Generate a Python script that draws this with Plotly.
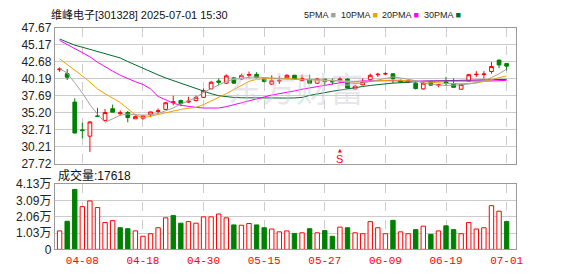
import plotly.graph_objects as go

W, H = 578, 276

# ---------------- data ----------------
dates = ["04-02","04-03","04-07","04-08","04-09","04-10","04-11","04-14","04-15","04-16",
         "04-17","04-18","04-21","04-22","04-23","04-24","04-25","04-28","04-29","04-30",
         "05-06","05-07","05-08","05-09","05-12","05-13","05-14","05-15","05-16","05-19",
         "05-20","05-21","05-22","05-23","05-26","05-27","05-28","05-29","05-30","06-03",
         "06-04","06-05","06-06","06-09","06-10","06-11","06-12","06-13","06-16","06-17",
         "06-18","06-19","06-20","06-23","06-24","06-25","06-26","06-27","06-30","07-01"]

opens = [41.5, 40.92, 36.77, 32.7, 31.78, 34.74, 34.09, 35.8, 35.06, 35.24,
         34.32, 34.41, 34.92, 35.4, 35.7, 36.7, 36.99, 36.77, 36.99, 37.46,
         38.71, 39.86, 39.54, 40.32, 40.14, 40.7, 40.83, 40.14, 39.4, 39.85,
         40.32, 40.69, 39.9, 40.05, 39.54, 40.14, 39.8, 39.9, 40.14, 38.7,
         39.3, 40.05, 40.78, 40.9, 40.92, 39.95, 39.67, 39.54, 38.7, 39.72,
         39.28, 39.72, 39.45, 38.65, 39.86, 40.78, 40.8, 41.24, 42.91, 42.4]
highs = [41.85, 41.61, 37.32, 33.76, 34.0, 35.93, 35.75, 36.4, 35.56, 35.47,
         34.83, 34.92, 35.33, 35.84, 36.8, 37.69, 37.13, 37.55, 37.73, 38.75,
         39.86, 40.23, 40.83, 40.46, 40.92, 41.24, 41.15, 40.23, 40.69, 40.6,
         40.83, 40.78, 40.78, 40.78, 40.32, 40.14, 40.23, 40.46, 40.23, 39.3,
         40.23, 40.92, 41.06, 41.15, 40.92, 40.05, 40.05, 39.77, 39.77, 39.86,
         39.44, 40.46, 40.23, 39.44, 40.92, 41.29, 41.29, 42.63, 43.0, 42.4]
lows = [41.2, 40.0, 32.2, 31.45, 29.47, 34.6, 33.99, 35.29, 34.83, 33.81,
        34.32, 34.18, 34.55, 35.15, 35.6, 36.3, 36.17, 36.63, 36.9, 37.37,
        38.66, 39.21, 39.4, 39.44, 40.0, 40.23, 40.23, 39.67, 39.3, 39.44,
        40.14, 40.0, 39.86, 39.49, 39.4, 39.3, 39.3, 39.54, 38.75, 38.61,
        39.21, 39.86, 40.46, 40.69, 39.54, 39.6, 39.54, 38.61, 38.61, 39.15,
        38.93, 39.16, 38.93, 38.61, 39.77, 40.46, 40.23, 40.92, 41.75, 41.38]
closes = [41.6, 40.41, 32.24, 32.6, 33.86, 34.68, 35.24, 35.29, 35.2, 34.5,
          34.64, 34.73, 35.33, 35.5, 36.67, 36.8, 36.53, 36.9, 37.46, 38.43,
          39.67, 39.67, 40.6, 39.54, 40.64, 40.8, 40.37, 39.77, 39.9, 39.95,
          40.69, 40.09, 40.23, 39.54, 40.14, 39.77, 39.75, 40.14, 38.84, 39.07,
          39.77, 40.69, 40.83, 40.92, 40.2, 39.7, 39.86, 38.75, 39.54, 39.25,
          39.32, 39.5, 38.93, 39.35, 40.78, 40.83, 40.87, 41.98, 42.21, 42.03]

ma5 = [41.7, 41.0, 39.6, 38.1, 36.4, 35.0, 33.8, 34.3, 34.85, 35.0,
       34.9, 34.85, 34.9, 35.1, 35.5, 35.9, 36.5, 37.0, 37.4, 38.2,
       38.7, 39.3, 39.8, 40.1, 40.3, 40.4, 40.45, 40.4, 40.3, 40.2,
       40.1, 40.1, 40.1, 40.05, 40.0, 40.0, 39.95, 39.9, 39.6, 39.5,
       39.55, 39.8, 40.0, 40.3, 40.45, 40.3, 40.1, 39.9, 39.55, 39.35,
       39.25, 39.2, 39.2, 39.3, 39.4, 39.6, 39.9, 40.35, 40.9, 41.6]
ma10 = [43.1, 42.3, 41.5, 40.6, 39.7, 38.7, 38.0, 37.3, 36.7, 35.8,
        34.9, 34.45, 34.7, 35.05, 35.3, 35.5, 35.7, 35.85, 36.0, 36.4,
        36.9, 37.5, 38.0, 38.6, 39.2, 39.8, 40.1, 40.2, 40.25, 40.25,
        40.2, 40.15, 40.1, 40.05, 40.0, 40.0, 40.0, 39.95, 39.8, 39.7,
        39.75, 39.85, 39.95, 40.0, 40.0, 39.95, 39.9, 39.85, 39.8, 39.7,
        39.6, 39.5, 39.45, 39.45, 39.5, 39.55, 39.8, 40.05, 40.35, 40.6]
ma20 = [45.8, 45.2, 44.6, 44.0, 43.4, 42.6, 41.9, 41.3, 40.7, 40.2,
        39.75, 39.35, 38.7, 37.6, 37.1, 36.6, 36.3, 36.1, 36.0, 35.9,
        35.85, 35.9, 36.1, 36.4, 36.7, 36.95, 37.3, 37.55, 37.8, 38.0,
        38.15, 38.4, 38.65, 38.85, 39.05, 39.25, 39.45, 39.6, 39.7, 39.8,
        39.86, 39.88, 39.9, 39.92, 39.9, 39.85, 39.85, 39.8, 39.8, 39.8,
        39.78, 39.78, 39.77, 39.77, 39.77, 39.78, 39.8, 39.85, 39.9, 39.95]
ma30 = [46.0, 45.55, 45.1, 44.8, 44.5, 44.15, 43.85, 43.55, 43.23, 42.7,
        42.2, 41.65, 41.2, 40.75, 40.3, 39.9, 39.5, 39.15, 38.8, 38.4,
        38.0, 37.7, 37.55, 37.45, 37.4, 37.38, 37.36, 37.35, 37.35, 37.35,
        37.36, 37.38, 37.45, 37.75, 38.0, 38.15, 38.35, 38.55, 38.75, 38.9,
        39.05, 39.2, 39.35, 39.45, 39.55, 39.6, 39.7, 39.77, 39.82, 39.86,
        39.88, 39.9, 39.9, 39.9, 39.92, 39.95, 39.98, 40.02, 40.06, 40.09]

# volume in 万 (10k shares); "up" flag per bar (red hollow) vs down (green filled)
volumes_wan = [1.17, 1.78, 3.80, 2.71, 3.07, 2.65, 1.70, 1.82, 1.37, 1.31,
               1.17, 0.83, 0.99, 1.37, 2.00, 2.14, 1.66, 1.76, 1.66, 2.06,
               2.06, 2.24, 2.00, 1.55, 1.53, 1.64, 1.55, 1.37, 1.29, 1.11,
               1.17, 1.01, 1.05, 1.31, 1.05, 1.19, 0.83, 1.41, 1.37, 1.05,
               0.99, 1.76, 1.37, 0.99, 1.84, 1.11, 0.99, 1.25, 1.47, 0.95,
               1.17, 1.49, 1.25, 0.99, 1.70, 1.29, 1.37, 2.77, 2.42, 1.76]
vol_up = [1, 0, 0, 1, 1, 1, 1, 1, 0, 0,
          1, 1, 1, 1, 1, 0, 0, 1, 1, 1,
          1, 1, 1, 0, 1, 1, 0, 0, 1, 1,
          1, 0, 1, 0, 1, 0, 0, 1, 0, 1,
          1, 1, 1, 1, 0, 1, 1, 0, 1, 0,
          1, 0, 0, 1, 1, 1, 1, 1, 1, 0]

price_ticks = [27.72, 30.21, 32.71, 35.20, 37.69, 40.19, 42.68, 45.17, 47.67]
vol_ticks = [0, 1.03, 2.06, 3.09, 4.13]
vol_tick_text = ["0", "1.03万", "2.06万", "3.09万", "4.13万"]
x_tick_dates = ["04-08", "04-18", "04-30", "05-15", "05-27", "06-09", "06-19", "07-01"]

title_text = "维峰电子[301328] 2025-07-01 15:30"
vol_title = "成交量:17618"
ma_names = ["5PMA", "10PMA", "20PMA", "30PMA"]
ma_colors = ["#a0a0a0", "#f0a000", "#ff00ff", "#006a30"]
signal_date = "05-29"

# ---------------- figure ----------------
idx = list(range(len(dates)))
tick_idx = [dates.index(d) for d in x_tick_dates]

fig = go.Figure()

RED = "#ff0000"
GREEN = "#008000"

fig.add_trace(go.Candlestick(
    x=idx, open=opens, high=highs, low=lows, close=closes,
    increasing=dict(line=dict(color=RED, width=1), fillcolor="#ffffff"),
    decreasing=dict(line=dict(color=GREEN, width=1), fillcolor=GREEN),
    whiskerwidth=0, xaxis="x", yaxis="y", showlegend=False))

for vals, col in zip([ma30, ma20, ma10, ma5], [ma_colors[3], ma_colors[2], ma_colors[1], ma_colors[0]]):
    fig.add_trace(go.Scatter(x=idx, y=vals, mode="lines", line=dict(color=col, width=1),
                             xaxis="x", yaxis="y", hoverinfo="skip", showlegend=False))

fig.add_trace(go.Bar(
    x=idx, y=volumes_wan, width=0.58,
    marker=dict(color=["#ffffff" if u else GREEN for u in vol_up],
                line=dict(color=[RED if u else GREEN for u in vol_up], width=1)),
    xaxis="x2", yaxis="y2", showlegend=False, hoverinfo="skip"))

x0, x1 = 55.5 / W, 522.5 / W
xr = [-0.63, 60.26]
main_dom = [(H - 165.3) / H, (H - 21.7) / H]
vol_dom = [(H - 255.3) / H, (H - 186.7) / H]

axis_common = dict(showline=True, mirror=True, linecolor="#9a9a9a", linewidth=1, zeroline=False)

fig.update_layout(
    width=W, height=H, margin=dict(l=0, r=0, t=0, b=0), autosize=False,
    paper_bgcolor="#ffffff", plot_bgcolor="#ffffff", showlegend=False,
    xaxis=dict(domain=[x0, x1], range=xr, tickvals=tick_idx, showticklabels=False, ticks="",
               showgrid=True, gridcolor="#cccccc", griddash="dash", gridwidth=1,
               rangeslider=dict(visible=False), anchor="y", **axis_common),
    yaxis=dict(domain=main_dom, range=[27.72, 47.67], tickvals=price_ticks,
               ticktext=["%.2f" % v for v in price_ticks], ticks="",
               showgrid=True, gridcolor="#cccccc", gridwidth=1,
               tickfont=dict(family="Liberation Sans, Arial", size=12, color="#222222"),
               anchor="x", **axis_common),
    xaxis2=dict(domain=[x0, x1], range=xr, tickvals=tick_idx, ticktext=x_tick_dates, ticks="",
                showgrid=True, gridcolor="#cccccc", griddash="dash", gridwidth=1,
                tickfont=dict(family="Liberation Mono", size=11, color="#ff0000"),
                anchor="y2", **axis_common),
    yaxis2=dict(domain=vol_dom, range=[0, 4.13], tickvals=vol_ticks, ticktext=vol_tick_text,
                ticks="", showgrid=True, gridcolor="#cccccc", gridwidth=1,
                tickfont=dict(family="Liberation Sans, Noto Sans CJK SC", size=12, color="#222222"),
                anchor="x2", **axis_common),
)

sig_i = dates.index(signal_date)
annotations = [
    dict(text=title_text, x=50 / W, y=(H - 8.5) / H, xref="paper", yref="paper",
         xanchor="left", yanchor="middle", showarrow=False,
         font=dict(family="Liberation Sans, Noto Sans CJK SC", size=11, color="#111111")),
    dict(text=vol_title, x=57 / W, y=(H - 177) / H, xref="paper", yref="paper",
         xanchor="left", yanchor="middle", showarrow=False,
         font=dict(family="Liberation Sans, Noto Sans CJK SC", size=12, color="#111111")),
    dict(text="东方财富", x=300 / W, y=(H - 85) / H, xref="paper", yref="paper",
         xanchor="center", yanchor="middle", showarrow=False,
         font=dict(family="Noto Sans CJK SC", size=34, color="rgba(200,200,212,0.45)")),
    dict(text="S", x=sig_i, y=28.4, xref="x", yref="y", xanchor="center",
         yanchor="middle", showarrow=False,
         font=dict(family="Liberation Sans", size=11, color="#ff0000")),
    dict(text="▲", x=sig_i, y=29.75, xref="x", yref="y", xanchor="center",
         yanchor="middle", showarrow=False,
         font=dict(family="DejaVu Sans", size=5, color="#ff0000")),
]
leg_x = [306, 343, 385, 427]
for name, col, lx in zip(ma_names, ma_colors, leg_x):
    annotations.append(dict(
        text=name + " <span style='color:%s'>■</span>" % col,
        x=lx / W, y=(H - 8.5) / H, xref="paper", yref="paper", xanchor="left",
        yanchor="middle", showarrow=False,
        font=dict(family="Liberation Sans Narrow, Liberation Sans", size=9, color="#222222")))
fig.update_layout(annotations=annotations)

fig.write_html("out.html")
